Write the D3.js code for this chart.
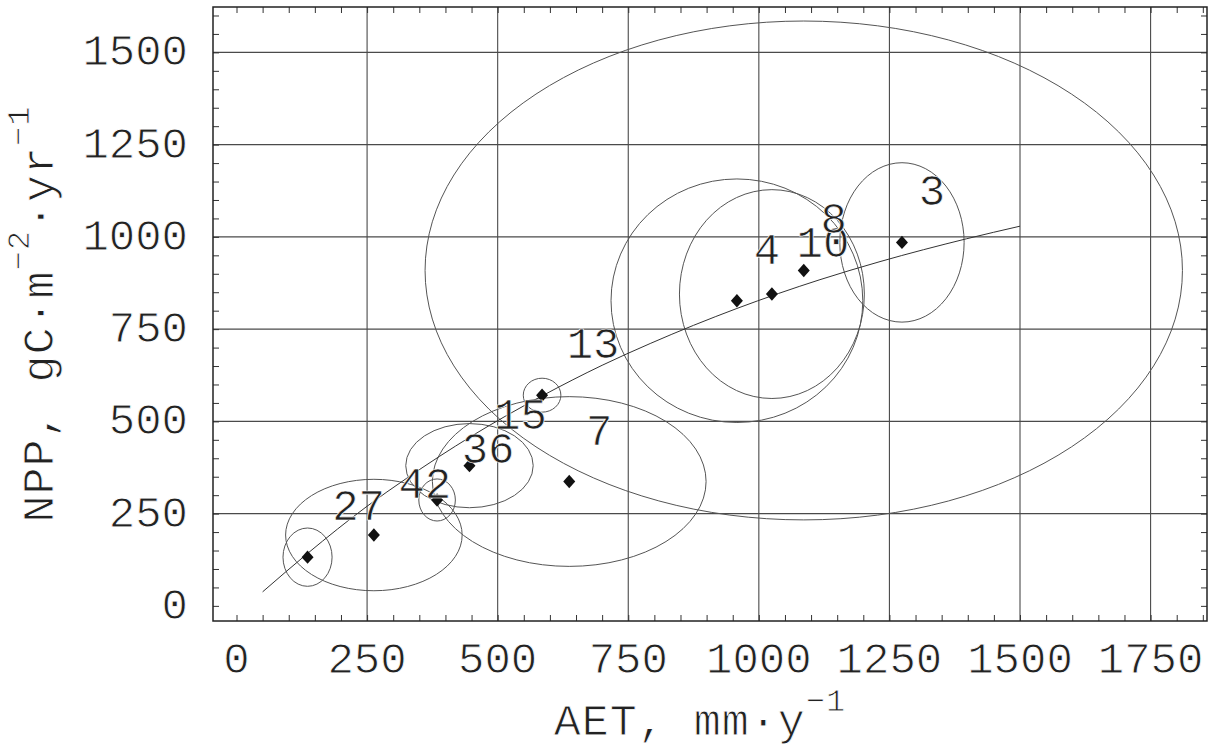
<!DOCTYPE html>
<html>
<head>
<meta charset="utf-8">
<script src="https://cdn.jsdelivr.net/npm/d3@7"></script>
<style>
  body { margin: 0; background: #fff; }
  text {
    font-family: "Liberation Mono", "DejaVu Sans Mono", monospace;
    fill: #222;
    stroke: #fff;
    stroke-width: 0.9px;
  }
</style>
</head>
<body>
<script>
// site means (AET, NPP) and their labels
const aet = [136, 263, 384, 446, 585, 637, 958, 1025, 1086, 1274];
const npp = [132, 192, 287, 380, 571, 337, 827, 845, 909, 985];
const siteLabels = ["27", "42", "36", "15", "13", "7", "4", "10", "8", "3"];

// half widths of the ellipses round each point
const spreadAet = [47, 169, 35, 122, 36, 262, 241, 177, 725, 119];
const spreadNpp = [79, 151, 57, 114, 46, 230, 330, 283, 676, 216];

// fitted curve
const fitAet = [50, 136, 250, 326, 450, 585, 700, 792, 958, 1117, 1232, 1398, 1500];
const fitNpp = [38, 142, 270, 346, 460, 569, 652, 711, 806, 884, 933, 995, 1029];

const xTicks = [0, 250, 500, 750, 1000, 1250, 1500, 1750];
const yTicks = [0, 250, 500, 750, 1000, 1250, 1500];

const W = 1216, H = 746;
const margin = { top: 7, right: 9, bottom: 125, left: 213 };
const width = W - margin.left - margin.right;
const height = H - margin.top - margin.bottom;

const svg = d3.select("body").append("svg")
  .attr("width", W)
  .attr("height", H);

const g = svg.append("g")
  .attr("transform", `translate(${margin.left},${margin.top})`);

const x = d3.scaleLinear().domain([-45, 1858]).range([0, width]);
const y = d3.scaleLinear().domain([-41, 1623]).range([height, 0]);

svg.append("clipPath").attr("id", "plot")
  .append("rect").attr("width", width).attr("height", height);

// grid lines
g.append("g").selectAll("line")
  .data(xTicks.filter(d => d > 0))
  .enter().append("line")
  .attr("x1", d => x(d)).attr("x2", d => x(d))
  .attr("y1", 0).attr("y2", height)
  .attr("stroke", "#4a4a4a").attr("stroke-width", 1.1);

g.append("g").selectAll("line")
  .data(yTicks.filter(d => d > 0))
  .enter().append("line")
  .attr("y1", d => y(d)).attr("y2", d => y(d))
  .attr("x1", 0).attr("x2", width)
  .attr("stroke", "#4a4a4a").attr("stroke-width", 1.1);

// minor ticks on all four sides, pointing inward
const tickLen = 6;
g.append("g").call(d3.axisBottom(x).tickValues(d3.range(0, 1851, 50)).tickSize(-tickLen).tickFormat(""))
  .attr("transform", `translate(0,${height})`);
g.append("g").call(d3.axisTop(x).tickValues(d3.range(0, 1851, 50)).tickSize(-tickLen).tickFormat(""));
g.append("g").call(d3.axisLeft(y).tickValues(d3.range(0, 1601, 50)).tickSize(-tickLen).tickFormat(""));
g.append("g").call(d3.axisRight(y).tickValues(d3.range(0, 1601, 50)).tickSize(-tickLen).tickFormat(""))
  .attr("transform", `translate(${width},0)`);
g.selectAll(".domain").remove();
g.selectAll(".tick line").attr("stroke", "#333").attr("stroke-width", 1);

// frame
g.append("rect")
  .attr("width", width).attr("height", height)
  .attr("fill", "none").attr("stroke", "#222").attr("stroke-width", 1.5);

// tick labels
g.append("g").selectAll("text")
  .data(xTicks)
  .enter().append("text")
  .attr("x", d => x(d))
  .attr("y", height + 52)
  .attr("text-anchor", "middle")
  .style("font-size", "44px")
  .text(d => d);

g.append("g").selectAll("text")
  .data(yTicks)
  .enter().append("text")
  .attr("x", -25)
  .attr("y", d => y(d) + 13)
  .attr("text-anchor", "end")
  .style("font-size", "44px")
  .text(d => d);

const plot = g.append("g").attr("clip-path", "url(#plot)");

// ellipses
plot.selectAll("ellipse")
  .data(aet)
  .enter().append("ellipse")
  .attr("cx", d => x(d))
  .attr("cy", (d, i) => y(npp[i]))
  .attr("rx", (d, i) => x(d + spreadAet[i]) - x(d))
  .attr("ry", (d, i) => y(npp[i] - spreadNpp[i]) - y(npp[i]))
  .attr("fill", "none")
  .attr("stroke", "#555")
  .attr("stroke-width", 1);

// fitted curve
const fit = fitAet.map((d, i) => [d, fitNpp[i]]);
plot.append("path")
  .datum(fit)
  .attr("fill", "none")
  .attr("stroke", "#333")
  .attr("stroke-width", 1)
  .attr("d", d3.line().x(d => x(d[0])).y(d => y(d[1])).curve(d3.curveMonotoneX));

// diamonds
const diamond = {
  draw(ctx, size) {
    const w = 6, h = 6.7;
    ctx.moveTo(0, -h); ctx.lineTo(w, 0); ctx.lineTo(0, h); ctx.lineTo(-w, 0); ctx.closePath();
  }
};
plot.selectAll(".pt")
  .data(aet)
  .enter().append("path")
  .attr("class", "pt")
  .attr("transform", (d, i) => `translate(${x(d)},${y(npp[i])})`)
  .attr("d", d3.symbol().type(diamond))
  .attr("fill", "#111");

// point labels
plot.selectAll(".lab")
  .data(siteLabels)
  .enter().append("text")
  .attr("class", "lab")
  .attr("x", (d, i) => x(aet[i]) + (d.length === 1 ? 30 : 51))
  .attr("y", (d, i) => y(npp[i]) - 37)
  .attr("text-anchor", "middle")
  .style("font-size", "44px")
  .style("stroke-width", "0.7px")
  .text(d => d);

// axis titles
const xt = svg.append("text")
  .attr("x", 700).attr("y", 735)
  .attr("text-anchor", "middle")
  .style("font-size", "45px")
  .style("letter-spacing", "1px");
xt.append("tspan").text("AET, mm\u00b7y");
xt.append("tspan").attr("dy", -24).style("font-size", "32px").text("\u22121");

const yt = svg.append("text")
  .attr("transform", "translate(53,314) rotate(-90)")
  .attr("text-anchor", "middle")
  .style("font-size", "45px")
  .style("letter-spacing", "1px");
yt.append("tspan").text("NPP, gC\u00b7m");
yt.append("tspan").attr("dy", -24).style("font-size", "32px").text("\u22122");
yt.append("tspan").attr("dy", 24).text("\u00b7yr");
yt.append("tspan").attr("dy", -24).style("font-size", "32px").text("\u22121");
</script>
</body>
</html>
